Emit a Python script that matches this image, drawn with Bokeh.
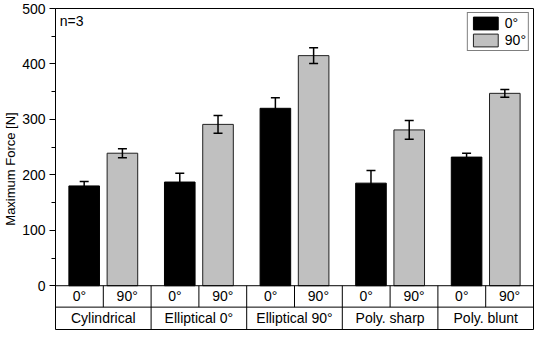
from bokeh.plotting import figure
from bokeh.models import Range1d, FixedTicker, Whisker, TeeHead, ColumnDataSource, Label
from bokeh.core.properties import value
from bokeh.embed import file_html
from bokeh.resources import INLINE

# ---- data ----
shapes = ["Cylindrical", "Elliptical 0°", "Elliptical 90°", "Poly. sharp", "Poly. blunt"]
orientations = ["0°", "90°"]
force_0 = [180, 187, 320, 185, 232]
err_0 = [8, 16, 19, 23, 7]
force_90 = [239, 291, 415, 281, 347]
err_90 = [8, 16, 14, 17, 7]
y_ticks = [0, 100, 200, 300, 400, 500]
y_minor = [50, 150, 250, 350, 450]
note = "n=3"

FONT = "Liberation Sans"
FS = "14px"
n = len(shapes)
YMAX = 500
TABLE = YMAX * 45 / 285      # depth of the category table below zero (data units)
ROW = TABLE * 22 / 45        # first table row
OFF = 0.2
BW = 0.32

centers = [i + 0.5 for i in range(n)]
src = ColumnDataSource(dict(
    x0=[c - OFF for c in centers],
    x90=[c + OFF for c in centers],
    f0=force_0, f90=force_90,
    lo0=[f - e for f, e in zip(force_0, err_0)],
    hi0=[f + e for f, e in zip(force_0, err_0)],
    lo90=[f - e for f, e in zip(force_90, err_90)],
    hi90=[f + e for f, e in zip(force_90, err_90)],
))

p = figure(width=534, height=330, output_backend="svg", toolbar_location=None,
           x_range=Range1d(0, n), y_range=Range1d(-TABLE, YMAX),
           x_axis_location=None,
           min_border_left=50, min_border_right=1, min_border_top=8, min_border_bottom=1,
           background_fill_color="white", border_fill_color="white",
           outline_line_color="black", outline_line_width=1)
p.xgrid.visible = False
p.ygrid.visible = False

p.vbar(x="x0", top="f0", bottom=0, width=BW, source=src,
       fill_color="black", line_color="black", line_width=1, legend_label=orientations[0])
p.vbar(x="x90", top="f90", bottom=0, width=BW, source=src,
       fill_color="#c0c0c0", line_color="#202020", line_width=1, legend_label=orientations[1])

for b, lo, hi in (("x0", "lo0", "hi0"), ("x90", "lo90", "hi90")):
    w = Whisker(source=src, base=b, lower=lo, upper=hi, line_color="black", line_width=1.5,
                upper_head=TeeHead(size=9, line_color="black", line_width=1.5),
                lower_head=TeeHead(size=9, line_color="black", line_width=1.5),
                level="annotation")
    p.add_layout(w)

# ---- category table ----
x0s, y0s, x1s, y1s = [], [], [], []
for yy in (0, -ROW):
    x0s.append(0); x1s.append(n); y0s.append(yy); y1s.append(yy)
for c in centers:
    x0s.append(c); x1s.append(c); y0s.append(-ROW); y1s.append(0)
for k in range(1, n):
    x0s.append(k); x1s.append(k); y0s.append(-TABLE); y1s.append(0)
p.segment(x0=x0s, y0=y0s, x1=x1s, y1=y1s, line_color="black", line_width=1)

sub_x = [i + (j + 0.5) / len(orientations) for i in range(n) for j in range(len(orientations))]
sub_t = [o for _ in range(n) for o in orientations]
p.text(x=sub_x, y=[-ROW / 2] * len(sub_x), text=sub_t, text_align="center",
       text_baseline="middle", text_font=value(FONT), text_font_size=FS, text_color="black")
p.text(x=centers, y=[-(ROW + TABLE) / 2] * n, text=shapes, text_align="center",
       text_baseline="middle", text_font=value(FONT), text_font_size=FS, text_color="black")

p.add_layout(Label(x=0.045, y=478, text=note, text_font=FONT, text_font_size=FS,
                   text_baseline="middle", text_color="black"))

# ---- y axis ----
ax = p.yaxis[0]
ax.ticker = FixedTicker(ticks=y_ticks, minor_ticks=y_minor)
ax.bounds = (0, YMAX)
ax.axis_label = "Maximum Force [N]"
ax.axis_label_text_font = FONT
ax.axis_label_text_font_size = "13px"
ax.axis_label_text_font_style = "normal"
ax.axis_label_text_color = "black"
ax.axis_label_standoff = 1
ax.major_label_text_font = FONT
ax.major_label_text_font_size = FS
ax.major_label_text_color = "black"
ax.major_label_standoff = 4
ax.major_tick_out = 6
ax.major_tick_in = 0
ax.minor_tick_out = 4
ax.minor_tick_in = 0
ax.axis_line_color = "black"
ax.major_tick_line_color = "black"
ax.minor_tick_line_color = "black"

# ---- legend ----
lg = p.legend[0]
lg.location = "top_right"
lg.margin = 4
lg.padding = 2
lg.spacing = 1
lg.glyph_width = 31
lg.glyph_height = 16
lg.label_height = 16
lg.label_standoff = 4
lg.border_line_color = "black"
lg.border_line_width = 1
lg.background_fill_color = "white"
lg.background_fill_alpha = 1
lg.label_text_font = FONT
lg.label_text_font_size = FS
lg.label_text_color = "black"

open("out.html", "w").write(file_html(p, INLINE))
